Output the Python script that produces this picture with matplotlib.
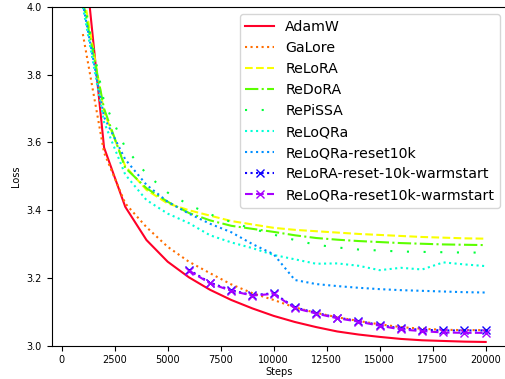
import numpy as np
import matplotlib
matplotlib.use("Agg")
import matplotlib.pyplot as plt

steps = list(range(1000, 21000, 1000))
warm_steps = list(range(6000, 21000, 1000))

adamw = [4.20, 3.585, 3.41, 3.312, 3.248, 3.202, 3.165, 3.135, 3.110, 3.088,
         3.070, 3.055, 3.042, 3.033, 3.026, 3.020, 3.016, 3.014, 3.012, 3.011]
galore = [3.92, 3.57, 3.42, 3.35, 3.292, 3.248, 3.214, 3.181, 3.155, 3.135,
          3.113, 3.097, 3.084, 3.073, 3.063, 3.055, 3.050, 3.047, 3.046, 3.046]
relora = [4.05, 3.69, 3.53, 3.46, 3.42, 3.40, 3.384, 3.368, 3.358, 3.348,
          3.342, 3.338, 3.334, 3.330, 3.327, 3.324, 3.321, 3.319, 3.317, 3.316]
redora = [4.02, 3.70, 3.525, 3.465, 3.425, 3.392, 3.370, 3.354, 3.345, 3.336,
          3.326, 3.318, 3.313, 3.309, 3.306, 3.303, 3.301, 3.299, 3.298, 3.297]
repissa = [4.03, 3.72, 3.585, 3.507, 3.452, 3.416, 3.388, 3.365, 3.345, 3.328,
           3.312, 3.298, 3.290, 3.284, 3.281, 3.278, 3.277, 3.276, 3.275, 3.275]
reloqra = [4.00, 3.66, 3.505, 3.43, 3.39, 3.362, 3.326, 3.305, 3.288, 3.268,
           3.255, 3.242, 3.243, 3.236, 3.223, 3.230, 3.225, 3.246, 3.240, 3.235]
reloqra_reset = [4.01, 3.675, 3.55, 3.475, 3.425, 3.39, 3.36, 3.335, 3.30, 3.27,
                 3.194, 3.182, 3.176, 3.171, 3.167, 3.164, 3.162, 3.160, 3.158, 3.157]
relora_warm = [3.224, 3.186, 3.164, 3.149, 3.155, 3.113, 3.097, 3.083, 3.073,
               3.061, 3.051, 3.047, 3.045, 3.045, 3.045]
reloqra_warm = [3.222, 3.184, 3.162, 3.148, 3.153, 3.111, 3.095, 3.081, 3.071,
                3.059, 3.048, 3.043, 3.039, 3.038, 3.038]

colors = plt.cm.gist_rainbow(np.linspace(0, 1, 10))

fig = plt.figure(figsize=(5.05, 3.79), dpi=100)
ax = fig.add_axes([51.7 / 505, 33.3 / 379, 455.2 / 505, 338.7 / 379])

ax.plot(steps, adamw, '-', color=colors[0], lw=1.5, label='AdamW')
ax.plot(steps, galore, ':', color=colors[1], lw=1.5, label='GaLore')
ax.plot(steps, relora, '--', color=colors[2], lw=1.5, label='ReLoRA')
ax.plot(steps, redora, '-.', color=colors[3], lw=1.5, label='ReDoRA')
ax.plot(steps, repissa, linestyle=(0, (1, 7)), color=colors[4], lw=1.5, label='RePiSSA')
ax.plot(steps, reloqra, ':', color=colors[5], lw=1.5, label='ReLoQRa')
ax.plot(steps, reloqra_reset, ':', color=colors[6], lw=1.5, label='ReLoQRa-reset10k')
ax.plot(warm_steps, relora_warm, ':', marker='x', color=colors[7], lw=1.5,
        label='ReLoRA-reset-10k-warmstart')
ax.plot(warm_steps, reloqra_warm, '--', marker='x', color=colors[8], lw=1.5,
        label='ReLoQRa-reset10k-warmstart')

ax.set_xlim(-470, 21000)
ax.set_ylim(3.0, 4.0)
ax.set_xticks([0, 2500, 5000, 7500, 10000, 12500, 15000, 17500, 20000])
ax.tick_params(labelsize=7)
ax.set_xlabel('Steps', fontsize=7, labelpad=1)
ax.set_ylabel('Loss', fontsize=7)
ax.legend(loc='upper right', fontsize=10.2)

fig.savefig('out.png', dpi=100)
